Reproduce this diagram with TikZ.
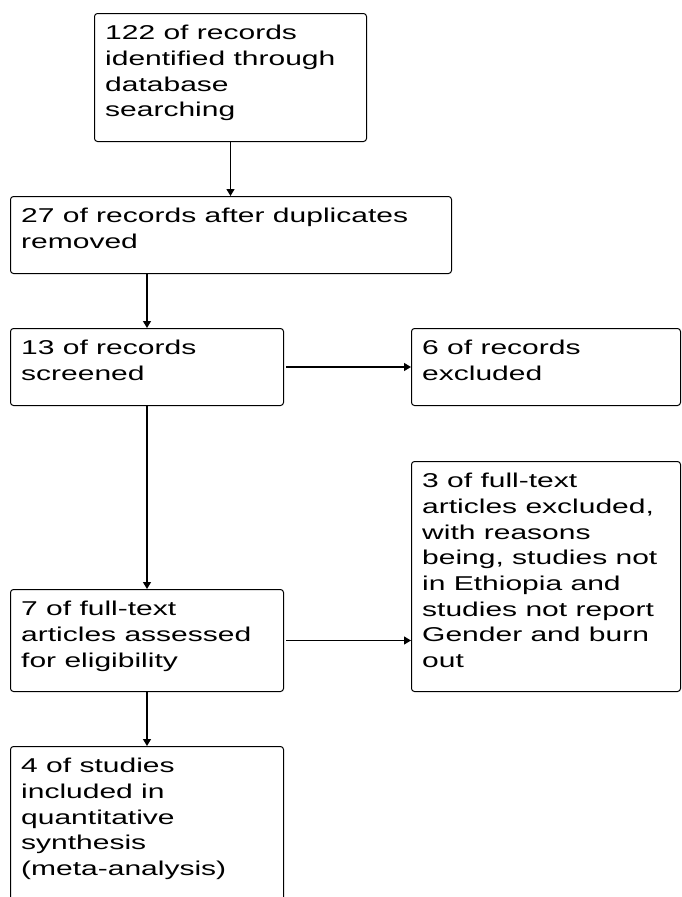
\documentclass[tikz,border=0pt]{standalone}
\usepackage{fontspec}
\setmainfont[FakeStretch=1.5]{Liberation Sans}
\usetikzlibrary{arrows.meta}

\tikzset{
  flowbox/.style={draw, line width=1pt, rounded corners=3pt, anchor=north west, inner sep=0pt},
  flowtext/.style={anchor=north west, align=left, inner xsep=11pt, inner ysep=12pt,
    font=\fontsize{20}{25.7}\selectfont},
  flowarrow/.style={line width=1.2pt, -{Triangle[length=7pt,width=8pt]}}
}

\begin{document}
\begin{tikzpicture}[x=1pt, y=-1pt]
\useasboundingbox (0,0) rectangle (681,897);
% boxes
\node[flowbox, minimum width=272pt, minimum height=128pt,
  label={[flowtext]north west:{122 of records\\identified through\\database\\searching}}] (ident) at (94,13) {};
\node[flowbox, minimum width=441pt, minimum height=77pt,
  label={[flowtext]north west:{27 of records after duplicates\\removed}}] (dup) at (10,196) {};
\node[flowbox, minimum width=273pt, minimum height=77pt,
  label={[flowtext]north west:{13 of records\\screened}}] (screen) at (10,328) {};
\node[flowbox, minimum width=269pt, minimum height=77pt,
  label={[flowtext]north west:{6 of records\\excluded}}] (excl) at (411,328) {};
\node[flowbox, minimum width=273pt, minimum height=102pt,
  label={[flowtext]north west:{7 of full-text\\articles assessed\\for eligibility}}] (full) at (10,589) {};
\node[flowbox, minimum width=269pt, minimum height=230pt,
  label={[flowtext]north west:{3 of full-text\\articles excluded,\\with reasons\\being, studies not\\in Ethiopia and\\studies not report\\Gender and burn\\out}}] (ftexcl) at (411,461) {};
\node[flowbox, minimum width=273pt, minimum height=200pt,
  label={[flowtext]north west:{4 of studies\\included in\\quantitative\\synthesis\\(meta-analysis)}}] (incl) at (10,746) {};
% arrows
\draw[flowarrow] (ident.south) -- (ident.south |- dup.north);
\draw[flowarrow] (dup.south -| screen.north) -- (screen.north);
\draw[flowarrow, shorten <=2pt] (screen.east) -- (excl.west);
\draw[flowarrow] (screen.south) -- (full.north);
\draw[flowarrow, shorten <=2pt] (full.east) -- (full.east -| ftexcl.west);
\draw[flowarrow] (full.south) -- (incl.north);
\end{tikzpicture}
\end{document}
